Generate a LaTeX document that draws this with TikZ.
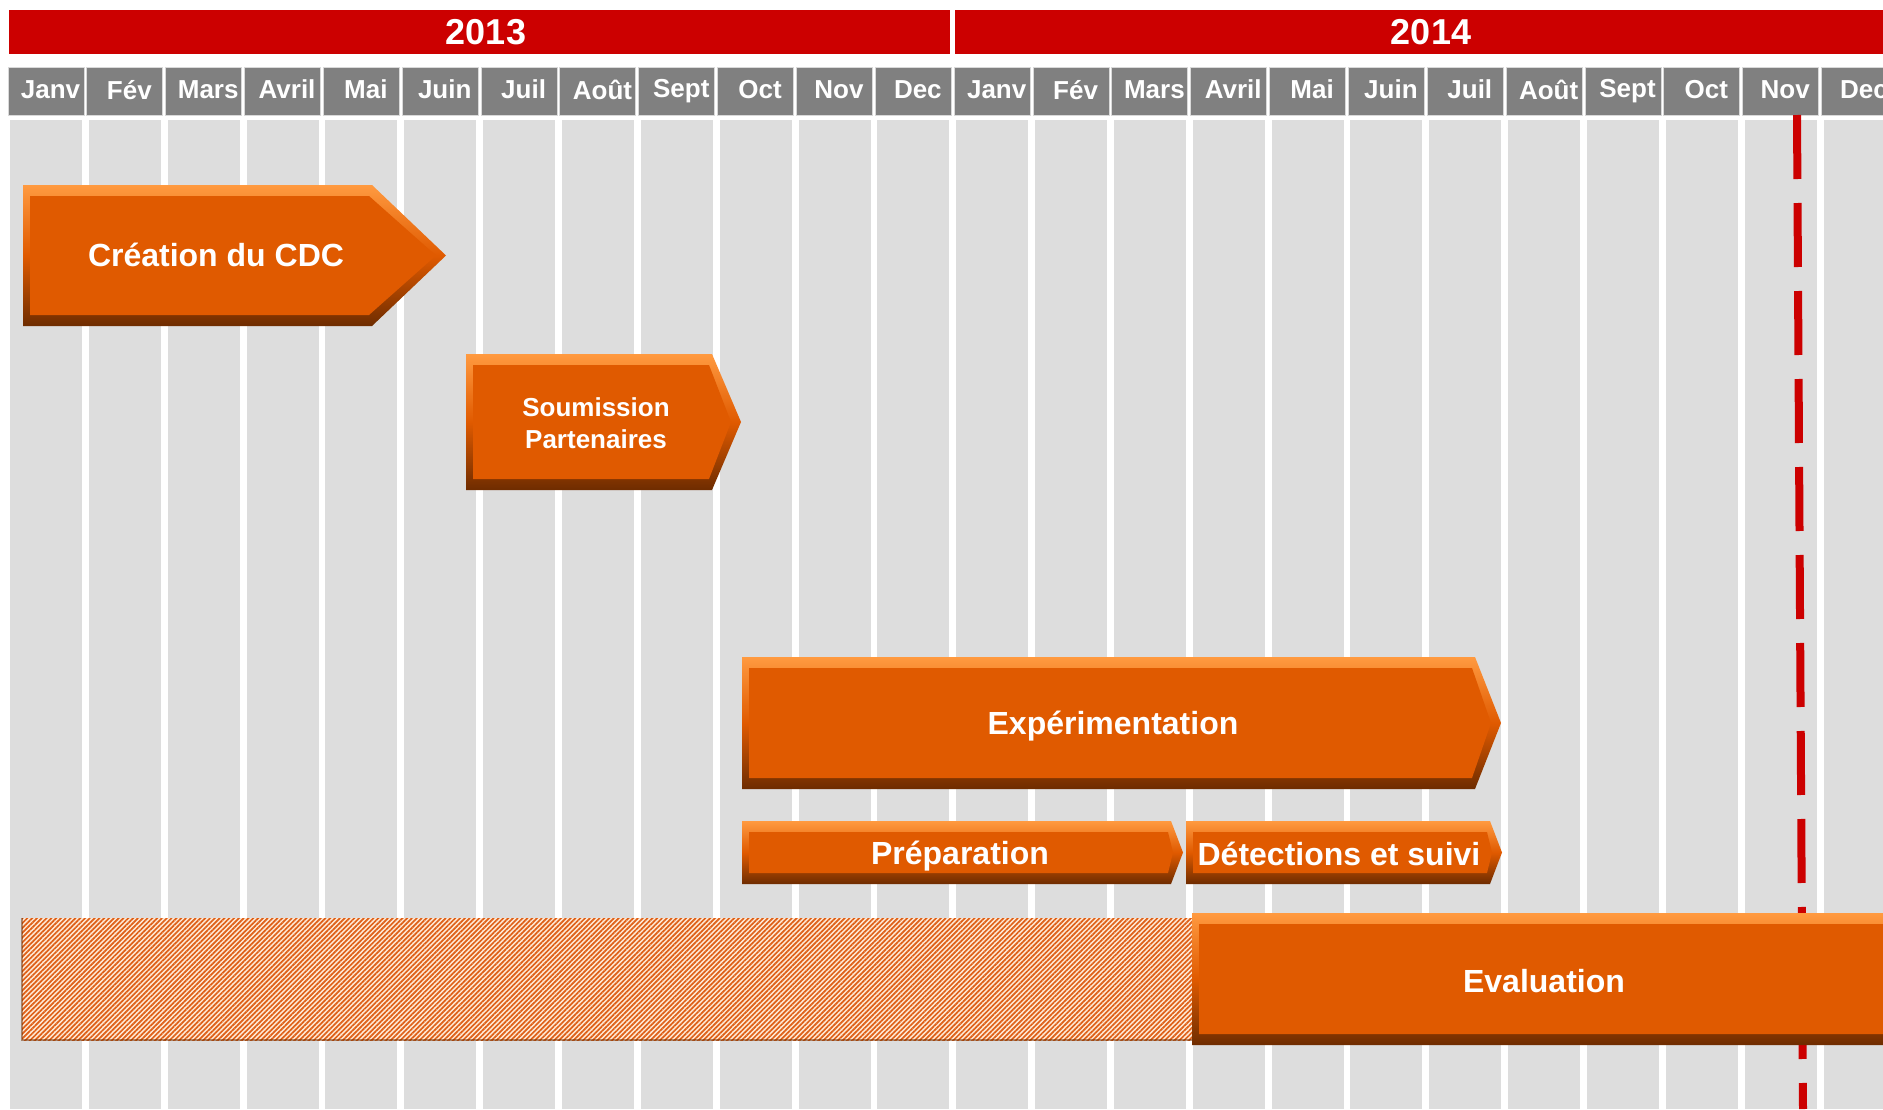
\documentclass[tikz,border=0pt]{standalone}
\usepackage{fontspec}
\setmainfont{Liberation Sans}
\usetikzlibrary{patterns.meta}

\definecolor{yearred}{HTML}{CC0000}
\definecolor{headgray}{HTML}{808080}
\definecolor{colgray}{HTML}{DDDDDD}
\definecolor{barorange}{HTML}{E05A00}
\definecolor{barlight}{HTML}{FF9A40}
\definecolor{bardark}{HTML}{6E2C00}
\definecolor{hatchbg}{HTML}{FFEBD8}
\definecolor{hatchline}{HTML}{DE6018}

\tikzset{
  yeartext/.style={text=white,inner sep=0pt,font=\bfseries\fontsize{36}{40}\selectfont},
  month/.style={fill=headgray,draw=white!85!black,line width=1pt,text=white,inner sep=0pt,
    minimum width=76pt,minimum height=48pt,font=\bfseries\fontsize{26}{30}\selectfont},
  bevel/.style={top color=barlight,bottom color=bardark,middle color=barorange},
  bartext/.style={text=white,align=center,font=\bfseries\fontsize{32}{36}\selectfont},
  nowline/.style={yearred,line width=8pt,dash pattern=on 64pt off 24pt},
}

% bar with bevel: x0, shoulder, tip, top, bottom
\newcommand{\phasebar}[5]{%
  \path[bevel] (#1,#4)--(#2,#4)--(#3,{(#4+#5)/2})--(#2,#5)--(#1,#5)--cycle;
  \fill[barorange] ({#1+7},{#4+11})--({#2-3},{#4+11})--({#3-10},{(#4+#5)/2})
    --({#2-3},{#5-11})--({#1+7},{#5-11})--cycle;
}

\begin{document}
\begin{tikzpicture}[x=1pt,y=-1pt]
\useasboundingbox (0,0) rectangle (1883,1109);
\clip (0,0) rectangle (1883,1109);

% years
\fill[yearred] (9,10) rectangle (950,54);
\fill[yearred] (955,10) rectangle (1905,54);
\node[yeartext] (y2013) at (486,32) {2013};
\node[yeartext] (y2014) at (1431,32) {2014};

% months and columns
\foreach \m [count=\i from 0] in {Janv,Fév,Mars,Avril,Mai,Juin,Juil,Août,Sept,Oct,Nov,Dec,
                                  Janv,Fév,Mars,Avril,Mai,Juin,Juil,Août,Sept,Oct,Nov,Dec}{
  \fill[colgray] ({10+78.85*\i},120) rectangle ({82+78.85*\i},1109);
  \node[month] (m\i) at ({46+78.85*\i},91) {\hspace*{9pt}\m\raisebox{-3pt}{}};
}

% today
\coordinate (nowtop) at (1797,115);
\coordinate (nowbot) at (1803,1109);
\draw[nowline] (nowtop)--(nowbot);

% phases
\phasebar{23}{372}{446}{185}{326}
\node[bartext] (cdc) at (216,255) {Création du CDC};

\phasebar{466}{712}{741}{354}{490}
\node[bartext,font=\bfseries\fontsize{26}{32}\selectfont] (soum) at (596,423) {Soumission\\Partenaires};

\phasebar{742}{1475}{1501}{657}{789}
\node[bartext] (exp) at (1113,726) {Expérimentation};

\phasebar{742}{1171}{1183}{821}{884}
\node[bartext] (prep) at (960,856) {Préparation};

\phasebar{1186}{1490}{1502}{821}{884}
\node[bartext] (detect) at (1339,854) {Détections et suivi};

% evaluation (hatched part = before)
\fill[hatchbg] (22,918) rectangle (1192,1040);
\fill[pattern={Lines[angle=45,distance=3.4pt,line width=1.7pt]},pattern color=hatchline]
  (22,918) rectangle (1192,1040);
\draw[bardark,line width=2pt,opacity=0.5] (22,918)--(22,1040)--(1192,1040);
\phasebar{1192}{1900}{1900}{913}{1045}
\node[bartext] (eval) at (1544,981) {Evaluation};
\end{tikzpicture}
\end{document}
